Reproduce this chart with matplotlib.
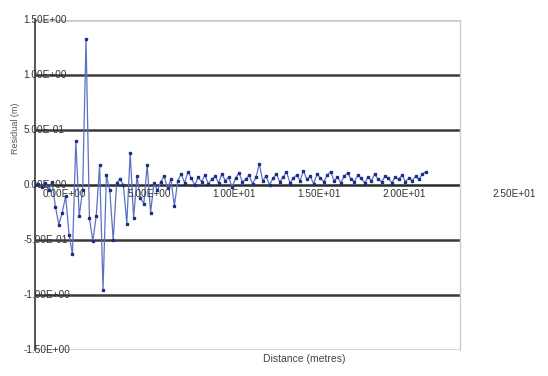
import matplotlib
matplotlib.use("Agg")
import matplotlib.pyplot as plt
import numpy as np

plt.rcParams['font.family'] = ['Liberation Sans', 'DejaVu Sans']

# Sample spacing along the x axis
step = 0.2

# Series values
y_vals = [
    0.00, 0.01, -0.02, 0.02, -0.05, 0.03, -0.20, -0.36, -0.25, -0.10,
    -0.45, -0.63, 0.40, -0.28, -0.05, 1.33, -0.30, -0.51, -0.28, 0.18,
    -0.95, 0.09, -0.05, -0.50, 0.02, 0.05, 0.00, -0.35, 0.29, -0.30,
    0.08, -0.12, -0.17, 0.18, -0.25, 0.02, -0.05,
    0.03, 0.08, -0.03, 0.05, -0.19, 0.04, 0.10, 0.02, 0.12, 0.06,
    0.00, 0.07, 0.03, 0.09, 0.01, 0.05, 0.08, 0.02, 0.10, 0.04,
    0.07, -0.02, 0.06, 0.11, 0.03, 0.05, 0.09, 0.01, 0.07, 0.19,
    0.04, 0.08, 0.00, 0.06, 0.10, 0.03, 0.07, 0.12, 0.02, 0.06,
    0.09, 0.04, 0.13, 0.05, 0.08, 0.01, 0.10, 0.06, 0.03, 0.09,
    0.12, 0.04, 0.07, 0.02, 0.08, 0.11, 0.05, 0.03, 0.09, 0.06,
    0.02, 0.07, 0.04, 0.10, 0.05, 0.03, 0.08, 0.06, 0.02, 0.07,
    0.05, 0.09, 0.03, 0.06, 0.04, 0.08, 0.05, 0.10, 0.12,
]
x_vals = np.arange(len(y_vals)) * step

y_ticks = [1.5, 1.0, 0.5, 0.0, -0.5, -1.0, -1.5]
y_labels = ["1.50E+00", "1.00E+00", "5.00E-01", "0.00E+00",
            "-5.00E-01", "-1.00E+00", "-1.50E+00"]
x_ticks = [0, 5, 10, 15, 20, 25]
x_labels = ["0.00E+00", "5.00E+00", "1.00E+01", "1.50E+01",
            "2.00E+01", "2.50E+01"]

fig = plt.figure(figsize=(5.48, 3.76), dpi=100)
ax = fig.add_axes([0.064, 0.069, 0.775, 0.878])
ax.set_xlim(0, 25)
ax.set_ylim(-1.5, 1.5)

# horizontal gridlines
for yt in y_ticks:
    if abs(yt) == 1.5:
        ax.axhline(yt, color="#c8c8c8", lw=1.8, zorder=1)
    elif yt != 0:
        ax.axhline(yt, color="#3a3a3a", lw=1.8, zorder=1)
ax.axhline(0, color="#2a2a2a", lw=1.8, zorder=2)

ax.plot(x_vals, y_vals, color="#5a72c4", lw=0.9, marker="s", ms=1.9,
        mfc="#1f2f85", mec="#1f2f85", zorder=3)

for sp in ["top", "bottom"]:
    ax.spines[sp].set_visible(False)
ax.spines["left"].set_color("#555555")
ax.spines["left"].set_linewidth(1.4)
ax.spines["right"].set_color("#cccccc")
ax.spines["right"].set_linewidth(1.0)

ax.set_xticks([])
ax.set_yticks([])

ytr = ax.get_yaxis_transform()
for yt, lab in zip(y_ticks, y_labels):
    ax.text(-0.028, yt, lab, transform=ytr, ha="left", va="center",
            fontsize=7.2, color="#333333", clip_on=False, zorder=4)

for xt, lab in zip(x_ticks, x_labels):
    off = 1.9 if xt == 25 else 0.45
    ax.text(xt + off, -0.08, lab, ha="left", va="center",
            fontsize=7.2, color="#333333", clip_on=False, zorder=4)

fig.text(0.028, 0.66, "Residual (m)", rotation=90, ha="center", va="center",
         fontsize=6.5, color="#555555")
fig.text(0.556, 0.045, "Distance (metres)", ha="center", va="center",
         fontsize=7.5, color="#444444")

fig.savefig("out.png", dpi=100)
